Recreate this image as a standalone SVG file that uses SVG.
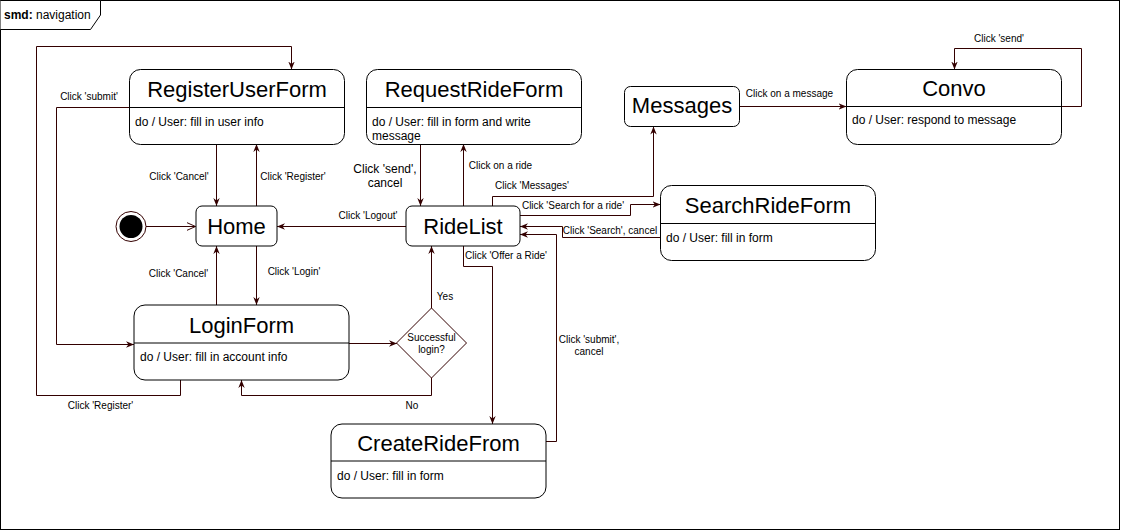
<svg xmlns="http://www.w3.org/2000/svg" width="1121" height="531" viewBox="0 0 1121 531">
<style>
.node{fill:#fff;stroke:#000;stroke-width:1}
.div{stroke:#000;stroke-width:1;fill:none}
.title{font-family:"Liberation Sans",Arial,sans-serif;font-size:22px;text-anchor:middle;fill:#000}
.body{font-family:"Liberation Sans",Arial,sans-serif;font-size:12px;fill:#000}
.lbl{font-family:"Liberation Sans",Arial,sans-serif;font-size:10px;text-anchor:middle;fill:#000}
.lbl12{font-family:"Liberation Sans",Arial,sans-serif;font-size:12px;text-anchor:middle;fill:#000}
.edge{fill:none;stroke:#330000;stroke-width:1;marker-end:url(#arr)}
</style>
<defs>
<marker id="arr" viewBox="0 0 10 10" refX="10" refY="5" markerWidth="8" markerHeight="8" markerUnits="userSpaceOnUse" orient="auto"><path d="M0,1 L10,5 L0,9 L3,5 z" fill="#330000"/></marker>
<marker id="open" viewBox="0 0 10 10" refX="10" refY="5" markerWidth="9" markerHeight="9" markerUnits="userSpaceOnUse" orient="auto"><path d="M0,0.5 L10,5 L0,9.5" fill="none" stroke="#330000" stroke-width="1.1"/></marker>
</defs>
<rect x="0.5" y="0.5" width="1119" height="529" fill="#fff" stroke="#000"/>
<g id="frame-label">
<path d="M0.5,0.5 H100.5 V15 L90.5,29.5 H0.5" fill="#fff" stroke="#000"/>
<text x="4" y="19" font-family="Liberation Sans, Arial, sans-serif" font-size="12"><tspan font-weight="bold">smd:</tspan> navigation</text>
</g>
<g id="connectors">
<path d="M146,226.5 L195.5,226.5" fill="none" stroke="#330000" marker-end="url(#open)"/>
<path class="edge" d="M216.5,144 L216.5,206"/>
<path class="edge" d="M256.5,206 L256.5,144"/>
<path class="edge" d="M256.5,246 L256.5,305"/>
<path class="edge" d="M216.5,305 L216.5,246"/>
<path class="edge" d="M406,226.5 L277,226.5"/>
<path class="edge" d="M349,343.5 L397,343.5"/>
<path class="edge" d="M431.5,308 L431.5,246"/>
<path class="edge" d="M431.5,378 L431.5,395.5 L241.5,395.5 L241.5,380"/>
<path class="edge" d="M180.5,380 L180.5,395.5 L36.5,395.5 L36.5,46.5 L291.5,46.5 L291.5,69.5"/>
<path class="edge" d="M129.5,107.5 L56.5,107.5 L56.5,344.5 L134,344.5"/>
<path class="edge" d="M420.5,144 L420.5,206"/>
<path class="edge" d="M463.5,206 L463.5,144"/>
<path class="edge" d="M492.5,206 L492.5,196.5 L653.5,196.5 L653.5,126.5"/>
<path class="edge" d="M739.5,106.5 L846.5,106.5"/>
<path class="edge" d="M1061.5,106.5 L1081.5,106.5 L1081.5,48.5 L954.5,48.5 L954.5,69.5"/>
<path class="edge" d="M520,215.5 L630.5,215.5 L630.5,204.5 L660.5,204.5"/>
<path class="edge" d="M660.5,237.5 L562.5,237.5 L562.5,226.5 L520,226.5"/>
<path class="edge" d="M546,441.5 L556.5,441.5 L556.5,234.5 L520,234.5"/>
<path class="edge" d="M463.5,246 L463.5,266.5 L492.5,266.5 L492.5,424"/>
</g>
<g id="edge-labels">
<text class="lbl" x="89" y="100">Click 'submit'</text>
<text class="lbl" x="179" y="180">Click 'Cancel'</text>
<text class="lbl" x="293" y="180">Click 'Register'</text>
<text class="lbl" x="178.5" y="277">Click 'Cancel'</text>
<text class="lbl" x="294" y="275">Click 'Login'</text>
<text class="lbl" x="100.5" y="409">Click 'Register'</text>
<text class="lbl" x="368" y="219">Click 'Logout'</text>
<text class="lbl12" x="385" y="173">Click 'send',</text>
<text class="lbl12" x="385" y="187">cancel</text>
<text class="lbl" x="500.5" y="169">Click on a ride</text>
<text class="lbl" x="532" y="189">Click 'Messages'</text>
<text class="lbl" x="573" y="209">Click 'Search for a ride'</text>
<text class="lbl" x="610" y="234">Click 'Search', cancel</text>
<text class="lbl" x="506" y="259">Click 'Offer a Ride'</text>
<text class="lbl" x="445" y="300">Yes</text>
<text class="lbl" x="412" y="409">No</text>
<text class="lbl" x="589" y="343">Click 'submit',</text>
<text class="lbl" x="589" y="355">cancel</text>
<text class="lbl" x="789.5" y="97">Click on a message</text>
<text class="lbl" x="999" y="42">Click 'send'</text>
</g>
<g id="start">
<circle cx="131" cy="226.5" r="15" fill="#fff" stroke="#330000"/>
<circle cx="131" cy="226.5" r="11.5" fill="#000"/>
</g>
<g id="RegisterUserForm">
<rect class="node" x="129.5" y="69.5" width="215" height="75" rx="11" ry="11"/>
<path class="div" d="M129.5,107.5 H344.5"/>
<text class="title" x="237" y="97">RegisterUserForm</text>
<text class="body" x="135" y="126">do / User: fill in user info</text>
</g>
<g id="RequestRideForm">
<rect class="node" x="366.5" y="69.5" width="215" height="75" rx="11" ry="11"/>
<path class="div" d="M366.5,107.5 H581.5"/>
<text class="title" x="474" y="97">RequestRideForm</text>
<text class="body" x="372" y="126">do / User: fill in form and write</text>
<text class="body" x="372" y="140">message</text>
</g>
<g id="Messages">
<rect class="node" x="624.5" y="86.5" width="115" height="40" rx="6" ry="6"/>
<text class="title" x="682" y="113">Messages</text>
</g>
<g id="Convo">
<rect class="node" x="846.5" y="69.5" width="215" height="75" rx="11" ry="11"/>
<path class="div" d="M846.5,106.5 H1061.5"/>
<text class="title" x="954" y="96">Convo</text>
<text class="body" x="852" y="124">do / User: respond to message</text>
</g>
<g id="SearchRideForm">
<rect class="node" x="660.5" y="185.5" width="215" height="75" rx="11" ry="11"/>
<path class="div" d="M660.5,223.5 H875.5"/>
<text class="title" x="768" y="213">SearchRideForm</text>
<text class="body" x="666" y="242">do / User: fill in form</text>
</g>
<g id="Home">
<rect class="node" x="196" y="206" width="81" height="40" rx="6" ry="6"/>
<text class="title" x="236.5" y="234">Home</text>
</g>
<g id="RideList">
<rect class="node" x="406" y="206" width="114" height="40" rx="6" ry="6"/>
<text class="title" x="463" y="234">RideList</text>
</g>
<g id="LoginForm">
<rect class="node" x="134" y="305" width="215" height="75" rx="11" ry="11"/>
<path class="div" d="M134,343 H349"/>
<text class="title" x="241.5" y="333">LoginForm</text>
<text class="body" x="140" y="361">do / User: fill in account info</text>
</g>
<g id="Decision">
<polygon points="431.5,308 466.5,343 431.5,378 396.5,343" fill="#fff" stroke="#330000"/>
<text class="lbl" x="431.5" y="341">Successful</text>
<text class="lbl" x="431.5" y="353">login?</text>
</g>
<g id="CreateRideFrom">
<rect class="node" x="331" y="424" width="215" height="74" rx="11" ry="11"/>
<path class="div" d="M331,461 H546"/>
<text class="title" x="438.5" y="451">CreateRideFrom</text>
<text class="body" x="337" y="480">do / User: fill in form</text>
</g>
</svg>
